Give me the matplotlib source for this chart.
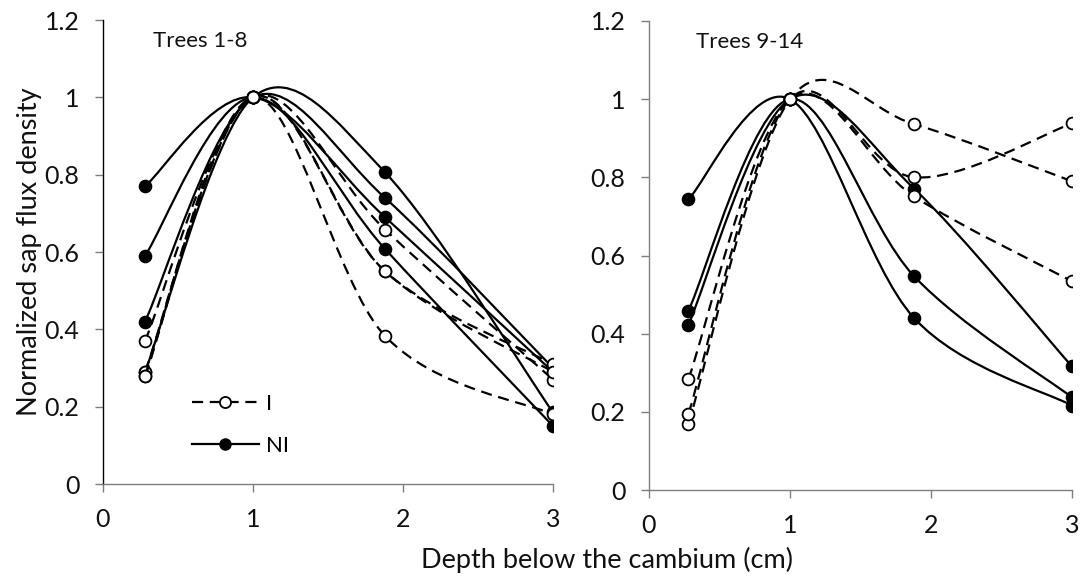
import numpy as np
import matplotlib
matplotlib.use("Agg")
import matplotlib.pyplot as plt
from matplotlib.path import Path
from matplotlib.patches import PathPatch
from matplotlib.lines import Line2D
from matplotlib.ticker import FuncFormatter

plt.rcParams['font.family'] = ['Lato', 'DejaVu Sans']

# depth below the cambium (cm)
depth = [0.28, 1.0, 1.88, 3.0]

# Trees 1-8
left_ni = [
    [0.77, 1.0, 0.69, 0.29],
    [0.29, 1.0, 0.806, 0.185],
    [0.42, 1.0, 0.74, 0.30],
    [0.59, 1.0, 0.608, 0.15],
]
left_i = [
    [0.37, 1.0, 0.658, 0.27],
    [0.29, 1.0, 0.55, 0.31],
    [0.28, 1.0, 0.55, 0.29],
    [0.28, 1.0, 0.383, 0.18],
]

# Trees 9-14
right_ni = [
    [0.744, 1.0, 0.44, 0.216],
    [0.459, 1.0, 0.547, 0.237],
    [0.423, 1.0, 0.771, 0.316],
]
right_i = [
    [0.169, 1.0, 0.936, 0.79],
    [0.195, 1.0, 0.80, 0.938],
    [0.284, 1.0, 0.751, 0.534],
]

panel_titles = ["Trees 1-8", "Trees 9-14"]
y_ticks = [0, 0.2, 0.4, 0.6, 0.8, 1.0, 1.2]
x_ticks = [0, 1, 2, 3]


def smooth_path(x, y):
    # Excel-style smoothed line: cubic Bezier through the points
    pts = np.column_stack([x, y]).astype(float)
    n = len(pts)
    verts = [pts[0]]
    codes = [Path.MOVETO]
    for i in range(n - 1):
        p0 = pts[max(i - 1, 0)]
        p1 = pts[i]
        p2 = pts[i + 1]
        p3 = pts[min(i + 2, n - 1)]
        verts += [p1 + (p2 - p0) / 6, p2 - (p3 - p1) / 6, p2]
        codes += [Path.CURVE4] * 3
    return Path(verts, codes)


def draw_series(ax, vals, dashed, z):
    ls = (0, (5, 3)) if dashed else "-"
    patch = PathPatch(smooth_path(depth, vals), fill=False, edgecolor="black",
                      lw=1.6, linestyle=ls, zorder=z, capstyle="butt")
    ax.add_patch(patch)
    ax.plot(depth, vals, linestyle="none", marker="o", ms=8.5, mew=1.3,
            mec="black", mfc="white" if dashed else "black", zorder=z + 0.5)


fig = plt.figure(figsize=(10.82, 5.81), dpi=100)
ax1 = fig.add_axes([103 / 1082, 1 - 484 / 581, 450 / 1082, 464 / 581])
ax2 = fig.add_axes([649 / 1082, 1 - 490 / 581, 423 / 1082, 469 / 581])

for ax, ni, ii, title in [(ax1, left_ni, left_i, panel_titles[0]),
                          (ax2, right_ni, right_i, panel_titles[1])]:
    z = 2
    for vals in ni:
        draw_series(ax, vals, False, z)
        z += 1
    for vals in ii:
        draw_series(ax, vals, True, z)
        z += 1

    ax.set_xlim(0, 3)
    ax.set_ylim(0, 1.2)
    ax.set_xticks(x_ticks)
    ax.set_yticks(y_ticks)
    ax.yaxis.set_major_formatter(FuncFormatter(lambda v, p: f"{v:g}"))
    for s in ["top", "right"]:
        ax.spines[s].set_visible(False)
    for s in ["left", "bottom"]:
        ax.spines[s].set_color("#7f7f7f")
        ax.spines[s].set_linewidth(1.0)
    ax.tick_params(direction="out", length=6, width=1.0, color="#7f7f7f",
                   labelsize=18, labelcolor="#111111")
    ax.tick_params(axis="y", pad=11)
    ax.tick_params(axis="x", pad=11)
    ax.text(0.111, 0.955, title, transform=ax.transAxes, fontsize=16,
            va="center", ha="left", color="#111111")

ax1.spines["left"].set_color("black")

handles = [
    Line2D([], [], color="black", lw=1.6, linestyle=(0, (5, 3)), marker="o",
           ms=8, mfc="white", mec="black", mew=1.3),
    Line2D([], [], color="black", lw=1.6, marker="o", ms=8, mfc="black",
           mec="black"),
]
ax1.legend(handles, ["I", "NI"], loc="upper left",
           bbox_to_anchor=(192 / 1082, 1 - 394 / 581),
           bbox_transform=fig.transFigure, frameon=False, fontsize=16,
           handlelength=3.0, handletextpad=0.35, labelspacing=1.0,
           borderpad=0, borderaxespad=0)

fig.text(30 / 1082, 1 - 252 / 581, "Normalized sap flux density",
         rotation=90, ha="center", va="center", fontsize=19.5, color="#111111")
fig.text(607 / 1082, 1 - 560 / 581, "Depth below the cambium (cm)",
         ha="center", va="center", fontsize=19.5, color="#111111")

fig.savefig("out.png", dpi=100)
